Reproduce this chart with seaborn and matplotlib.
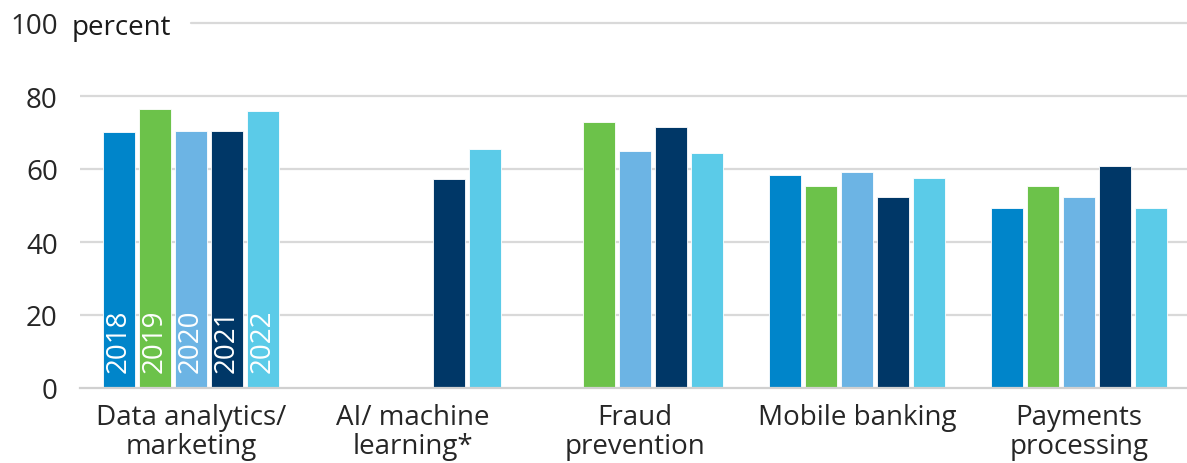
import numpy as np
import pandas as pd
import matplotlib
matplotlib.use("Agg")
import matplotlib.pyplot as plt
import seaborn as sns

# data (percent)
categories = ["Data analytics/\nmarketing", "AI/ machine\nlearning*", "Fraud\nprevention",
              "Mobile banking", "Payments\nprocessing"]
years = ["2018", "2019", "2020", "2021", "2022"]
v2018 = [70.1, np.nan, np.nan, 58.4, 49.3]
v2019 = [76.4, np.nan, 73.0, 55.3, 55.3]
v2020 = [70.5, np.nan, 64.8, 59.1, 52.2]
v2021 = [70.3, 57.2, 71.4, 52.3, 60.7]
v2022 = [75.9, 65.5, 64.4, 57.5, 49.4]
colors = ["#0085CA", "#6CC24A", "#6CB4E4", "#003767", "#5BCBE8"]

rows = []
for year, vals in zip(years, [v2018, v2019, v2020, v2021, v2022]):
    for cat, v in zip(categories, vals):
        rows.append({"Category": cat, "Year": year, "Value": v})
df = pd.DataFrame(rows).dropna()

sns.set_style("white")
plt.rcParams["font.family"] = ["Open Sans", "DejaVu Sans"]
plt.rcParams["text.color"] = "#1a1a1a"
FS = 20

fig = plt.figure(figsize=(11.87, 4.64), dpi=100)
ax = fig.add_axes([80 / 1187, 75 / 464, 1107 / 1187, 365 / 464])

sns.barplot(df, x="Category", y="Value", hue="Year", order=categories, hue_order=years,
            palette=colors, width=0.81, gap=0.12, saturation=1, legend=False,
            edgecolor="white", linewidth=0.6, ax=ax, zorder=3)

ax.set_xlim(-0.5, 4.486)
ax.set_ylim(0, 100)
ax.set_yticks([0, 20, 40, 60, 80, 100])
ax.set_xlabel(None)
ax.set_ylabel(None)

# gridlines
for y in [20, 40, 60, 80]:
    ax.axhline(y, color="#d9d9d9", lw=1.6, zorder=1)
ax.axhline(100, xmin=(191 - 80) / 1107, color="#d9d9d9", lw=1.6, zorder=1, clip_on=False)
ax.text(-0.008, 1.0, "percent", transform=ax.transAxes, ha="left", va="center_baseline",
        fontsize=FS)

sns.despine(ax=ax, left=True, top=True, right=True)
ax.spines["bottom"].set_color("#d0d0d0")
ax.spines["bottom"].set_linewidth(1.6)
ax.spines["bottom"].set_zorder(4)

ax.tick_params(axis="y", length=0, pad=16, labelsize=FS)
ax.tick_params(axis="x", which="major", length=0, pad=11, labelsize=FS)
ax.set_xticks(np.arange(-0.5, 4.5, 1), minor=True)
ax.tick_params(axis="x", which="minor", length=7, width=1.6, color="#d0d0d0")
for lab in ax.get_xticklabels():
    lab.set_linespacing(1.03)

# year labels inside the first group's bars
for year, cont in zip(years, ax.containers):
    bar = cont[0]
    ax.text(bar.get_x() + bar.get_width() / 2, 4.4, year, rotation=90, ha="center",
            va="bottom", color="white", fontsize=FS, zorder=5)

fig.savefig("out.png", dpi=100)
